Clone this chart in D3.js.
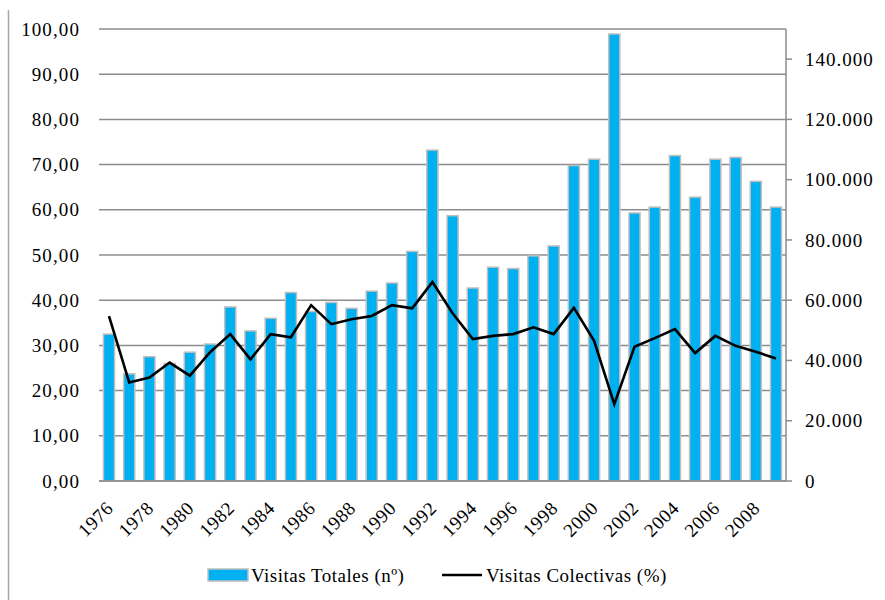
<!DOCTYPE html>
<html>
<head>
<meta charset="utf-8">
<script src="https://cdn.jsdelivr.net/npm/d3@7"></script>
<style>
  body { margin: 0; background: #fff; }
  text { font-family: "Liberation Serif", "Times New Roman", serif; fill: #000; }
</style>
</head>
<body>
<div id="chart"></div>
<script>
const years = d3.range(1976, 2010);
// Visitas Totales (nº), right axis
const totales = [48750, 35550, 41250, 39000, 42750, 45450, 57750, 49800, 54000, 62550,
  56250, 59250, 57300, 63000, 65700, 76200, 109800, 88050, 64050, 70950,
  70500, 74700, 78000, 104700, 106800, 148350, 88950, 90900, 108000, 94200,
  106800, 107400, 99450, 90900];
// Visitas Colectivas (%), left axis
const colectivas = [36.5, 21.8, 22.9, 26.2, 23.3, 28.5, 32.5, 26.9, 32.5, 31.8,
  38.9, 34.7, 35.8, 36.5, 38.9, 38.2, 44.0, 37.1, 31.4, 32.1,
  32.5, 34.0, 32.5, 38.3, 31.0, 17.0, 29.7, 31.6, 33.6, 28.3,
  32.1, 29.9, 28.6, 27.1];
const leftTicks = d3.range(0, 101, 10);
const rightTicks = d3.range(0, 140001, 20000);

const width = 885, height = 600;
const margin = { top: 29, right: 99, bottom: 119, left: 99 };
const w = width - margin.left - margin.right;
const h = height - margin.top - margin.bottom;

const esLocale = d3.formatLocale({ decimal: ",", thousands: ".", grouping: [3], currency: ["", "€"] });
const fmtLeft = esLocale.format(".2f");
const fmtRight = esLocale.format(",d");

const svg = d3.select("#chart").append("svg")
  .attr("width", width)
  .attr("height", height);

// frame line on the left
svg.append("line")
  .attr("x1", 8.5).attr("x2", 8.5).attr("y1", 10).attr("y2", 600)
  .attr("stroke", "#a6a6a6").attr("stroke-width", 1.5);

const g = svg.append("g")
  .attr("transform", "translate(" + margin.left + "," + margin.top + ")");

const x = d3.scaleBand().domain(years).range([0, w]).paddingInner(0.45).paddingOuter(0.22);
const yLeft = d3.scaleLinear().domain([0, 100]).range([h, 0]);
const yRight = d3.scaleLinear().domain([0, 150000]).range([h, 0]);
const cx = (d) => x(d) + x.bandwidth() / 2;

// gridlines
g.selectAll(".grid")
  .data(leftTicks)
  .enter()
  .append("line")
  .attr("x1", 0).attr("x2", w)
  .attr("y1", (d) => yLeft(d)).attr("y2", (d) => yLeft(d))
  .attr("stroke", "#8c8c8c").attr("stroke-width", 1.5);

// left labels
g.selectAll(".ylab")
  .data(leftTicks)
  .enter()
  .append("text")
  .attr("x", -19)
  .attr("y", (d) => yLeft(d))
  .attr("dy", "0.35em")
  .attr("text-anchor", "end")
  .style("font-size", "19px")
  .style("letter-spacing", "1.1px")
  .text((d) => fmtLeft(d));

// bars
g.selectAll(".bar")
  .data(years)
  .enter()
  .append("rect")
  .attr("x", (d) => x(d))
  .attr("width", x.bandwidth())
  .attr("y", (d, i) => yRight(totales[i]))
  .attr("height", (d, i) => h - yRight(totales[i]))
  .attr("fill", "#00b0f0")
  .attr("stroke", "#bfbfbf")
  .attr("stroke-width", 1.5);

// line
const line = d3.line()
  .x((d) => cx(d))
  .y((d, i) => yLeft(colectivas[i]));
g.append("path")
  .datum(years)
  .attr("d", line)
  .attr("fill", "none")
  .attr("stroke", "#000")
  .attr("stroke-width", 2.6)
  .attr("stroke-linejoin", "miter");

// bottom axis line
g.append("line")
  .attr("x1", 0).attr("x2", w).attr("y1", h).attr("y2", h)
  .attr("stroke", "#8c8c8c").attr("stroke-width", 1.5);

// x labels
g.selectAll(".xlab")
  .data(years.filter((d) => d % 2 === 0))
  .enter()
  .append("text")
  .attr("transform", (d) => "translate(" + (cx(d) - 4) + "," + (h + 19) + ") rotate(-45)")
  .attr("text-anchor", "end")
  .attr("dy", "0.7em")
  .style("font-size", "19px")
  .style("letter-spacing", "0.6px")
  .text((d) => d);

// right axis
const right = g.append("g").attr("transform", "translate(" + w + ",0)");
right.append("line")
  .attr("x1", 0).attr("x2", 0).attr("y1", 0).attr("y2", h)
  .attr("stroke", "#8c8c8c").attr("stroke-width", 1.5);
right.selectAll(".rtick")
  .data(rightTicks)
  .enter()
  .append("line")
  .attr("x1", 0).attr("x2", 6)
  .attr("y1", (d) => yRight(d)).attr("y2", (d) => yRight(d))
  .attr("stroke", "#8c8c8c").attr("stroke-width", 1.5);
right.selectAll(".rlab")
  .data(rightTicks)
  .enter()
  .append("text")
  .attr("x", 19)
  .attr("y", (d) => yRight(d))
  .attr("dy", "0.35em")
  .style("font-size", "19px")
  .style("letter-spacing", "1px")
  .text((d) => fmtRight(d));

// legend
const legend = svg.append("g").attr("transform", "translate(0,575)");
legend.append("rect")
  .attr("x", 208).attr("y", -6).attr("width", 40).attr("height", 12)
  .attr("fill", "#00b0f0").attr("stroke", "#bfbfbf").attr("stroke-width", 1.5);
legend.append("text")
  .attr("x", 251).attr("y", 0).attr("dy", "0.35em")
  .style("font-size", "19px").style("letter-spacing", "0.5px")
  .text("Visitas Totales (nº)");
legend.append("line")
  .attr("x1", 442).attr("x2", 482).attr("y1", 0).attr("y2", 0)
  .attr("stroke", "#000").attr("stroke-width", 2.6);
legend.append("text")
  .attr("x", 486).attr("y", 0).attr("dy", "0.35em")
  .style("font-size", "19px").style("letter-spacing", "0.5px")
  .text("Visitas Colectivas (%)");
</script>
</body>
</html>
